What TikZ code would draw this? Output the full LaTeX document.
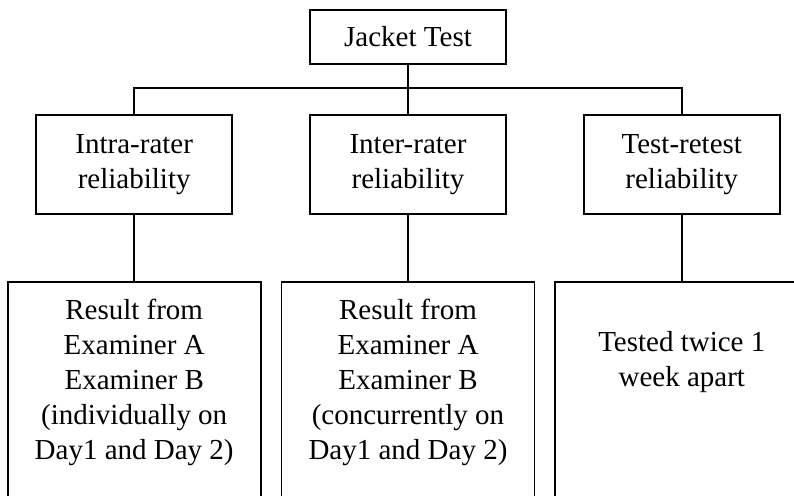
\documentclass[tikz,border=0pt]{standalone}
\usepackage{fontspec}
\setmainfont{Liberation Serif}
\usetikzlibrary{positioning}

\begin{document}
\begin{tikzpicture}[
  x=0.5pt,y=-0.5pt,
  node distance=24.5pt and 38pt,
  caixa/.style={draw,line width=0.9pt,minimum width=98pt,minimum height=49.5pt,
                inner sep=0pt,align=center,font=\fontsize{14.5}{17.5}\selectfont},
  resultado/.style={draw,line width=0.9pt,minimum width=126.5pt,minimum height=130pt,inner sep=0pt},
  texto/.style={inner sep=0pt,align=center,font=\fontsize{14.5}{17.5}\selectfont},
  ramo/.style={line width=0.9pt}
]
  \useasboundingbox (0,0) rectangle (794,495);
  \clip (0,0) rectangle (794,495);
  % topo
  \node[caixa,minimum height=27pt] (jacket) at (408,37) {Jacket Test};
  % tipos de confiabilidade
  \node[caixa,below=of jacket] (inter) {Inter-rater\\reliability};
  \node[caixa,left=of inter] (intra) {Intra-rater\\reliability};
  \node[caixa,right=of inter] (teste) {Test-retest\\reliability};
  % resultados
  \node[resultado,below=33pt of intra,anchor=north] (resA) {};
  \node[resultado,below=33pt of inter,anchor=north] (resB) {};
  \node[resultado,below=33pt of teste,anchor=north] (resC) {};
  \node[texto,below=9pt of resA.north] (txtA) {Result from\\Examiner A\\Examiner B\\(individually on\\Day1 and Day 2)};
  \node[texto,below=9pt of resB.north] (txtB) {Result from\\Examiner A\\Examiner B\\(concurrently on\\Day1 and Day 2)};
  \node[texto,below=25pt of resC.north] (txtC) {Tested twice 1\\week apart};
  % ligacoes
  \coordinate (barra) at ([yshift=-11.5pt]jacket.south);
  \draw[ramo] (jacket) -- (inter);
  \draw[ramo] (intra.north) |- (barra) -| (teste.north);
  \draw[ramo] (intra) -- (resA);
  \draw[ramo] (inter) -- (resB);
  \draw[ramo] (teste) -- (resC);
\end{tikzpicture}
\end{document}
